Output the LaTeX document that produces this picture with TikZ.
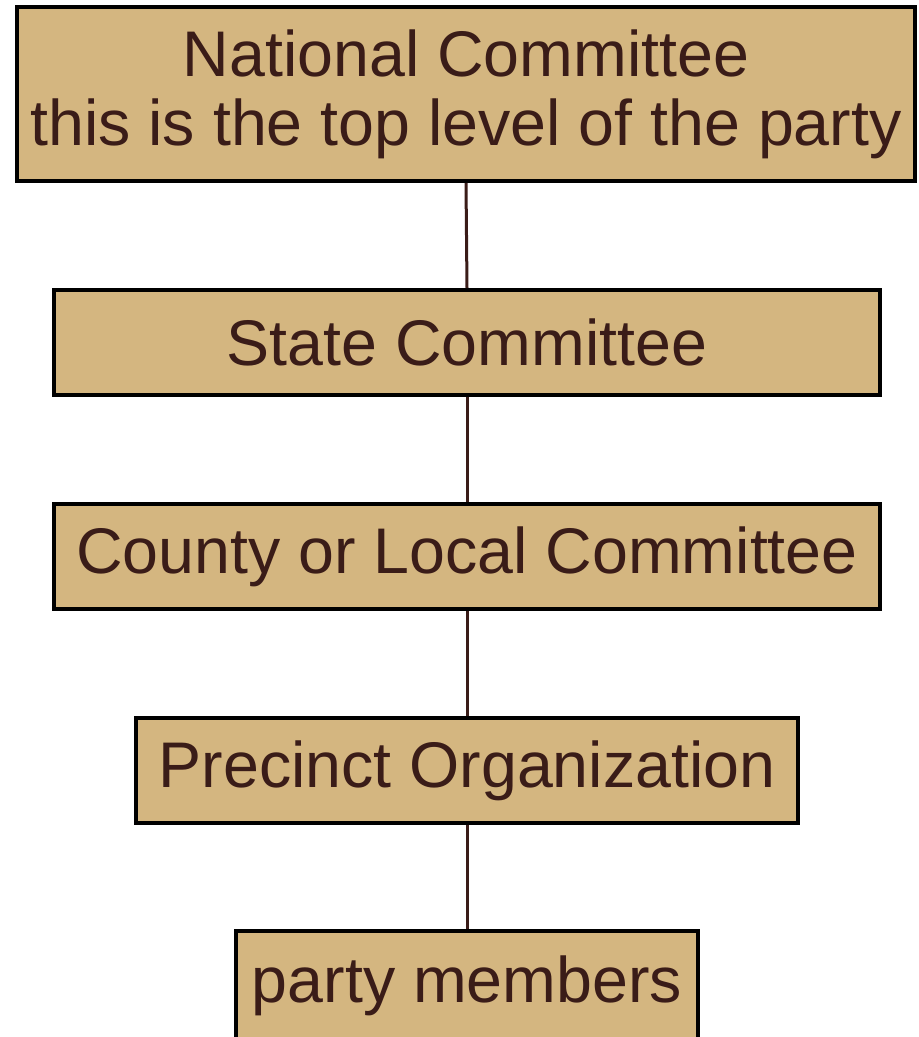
\documentclass[tikz,border=0pt]{standalone}
\usepackage{fontspec}
\setmainfont{Liberation Sans}
\usepackage{tikz}
\usetikzlibrary{arrows.meta}

\definecolor{boxfill}{HTML}{D4B680}
\definecolor{inkbrown}{HTML}{3A1C18}

\begin{document}
\begin{tikzpicture}[x=1pt, y=-1pt,
    level/.style={rectangle, draw=black, line width=4pt, fill=boxfill, text=inkbrown,
        inner sep=0pt, align=center, font=\fontsize{64.5}{69}\selectfont},
    link/.style={draw=inkbrown, line width=3pt}]
        % Page frame
        \useasboundingbox (0,0) rectangle (919,1037);

        % Levels of the party
        \node[level, minimum width=898pt, minimum height=174pt] (national) at (466,94)
            {National Committee\\this is the top level of the party};
        \node[level, minimum width=826pt, minimum height=105pt] (state) at (467,342.5) {State Committee};
        \node[level, minimum width=826pt, minimum height=105pt] (county) at (467,556.5) {County or Local Committee};
        \node[level, minimum width=662pt, minimum height=105pt] (precinct) at (467,770.5) {Precinct Organization};
        \node[level, minimum width=462pt, minimum height=109pt] (members) at (467,985.5) {party members};

        % Connections
        \foreach \a/\b in {national/state, state/county, county/precinct, precinct/members} {
            \draw[link] (\a.south) -- (\b.north);
        }
    \end{tikzpicture}
\end{document}
